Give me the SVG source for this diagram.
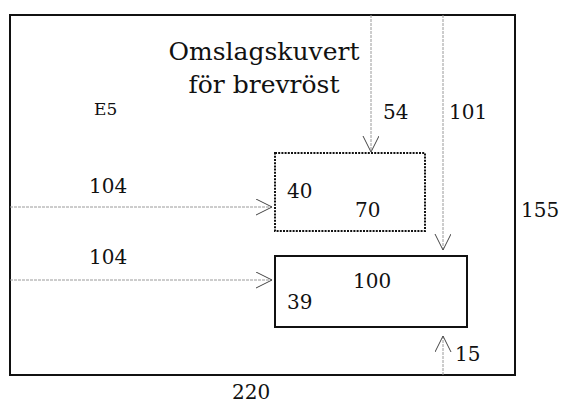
<svg xmlns="http://www.w3.org/2000/svg" width="561" height="410" viewBox="0 0 561 410">
<style>
text{fill:#111;font-family:"DejaVu Serif","Liberation Serif",serif}
.dim{font-size:20px}
.guide{stroke:#9a9a9a;stroke-width:1;stroke-dasharray:3 1;fill:none}
.head{stroke:#444;stroke-width:1;fill:none}
</style>
<defs>
<marker id="v" markerWidth="20" markerHeight="20" refX="16" refY="8" orient="auto" markerUnits="userSpaceOnUse">
<path class="head" d="M0,0 L16,8 L0,16"/>
</marker>
</defs>
<g id="outer"><rect x="10" y="15" width="505" height="360" fill="#fff" stroke="#111" stroke-width="2"/></g>
<g id="connectors">
<line class="guide" x1="371" y1="15" x2="371" y2="152" marker-end="url(#v)"/>
<line class="guide" x1="443" y1="15" x2="443" y2="250" marker-end="url(#v)"/>
<line class="guide" x1="10" y1="207" x2="272" y2="207" marker-end="url(#v)"/>
<line class="guide" x1="10" y1="280" x2="272" y2="280" marker-end="url(#v)"/>
<line class="guide" x1="443" y1="375" x2="443" y2="336" marker-end="url(#v)"/>
</g>
<g id="dotted"><rect x="275" y="153" width="150" height="78" fill="none" stroke="#111" stroke-width="2" stroke-dasharray="2 1.2"/></g>
<g id="solid"><rect x="275" y="256" width="192" height="71" fill="none" stroke="#111" stroke-width="2"/></g>
<g id="labels">
<text x="264" y="60" font-size="25" text-anchor="middle">Omslagskuvert</text>
<text x="264" y="93" font-size="25" text-anchor="middle">för brevröst</text>
<text x="94" y="115" font-size="17">E5</text>
<text class="dim" x="383" y="119">54</text>
<text class="dim" x="449" y="119">101</text>
<text class="dim" x="89" y="193">104</text>
<text class="dim" x="89" y="264">104</text>
<text class="dim" x="287" y="198">40</text>
<text class="dim" x="355" y="217">70</text>
<text class="dim" x="521" y="217">155</text>
<text class="dim" x="353" y="288">100</text>
<text class="dim" x="287" y="309">39</text>
<text class="dim" x="455" y="361">15</text>
<text class="dim" x="232" y="399">220</text>
</g>
</svg>
